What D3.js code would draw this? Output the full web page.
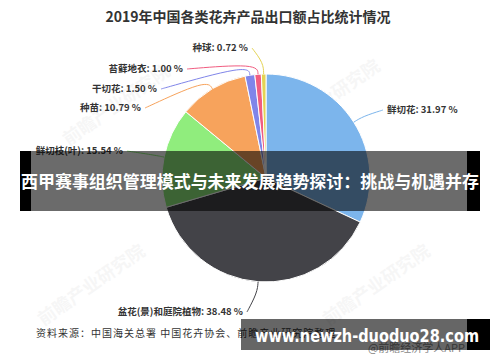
<!DOCTYPE html>
<html>
<head>
<meta charset="utf-8">
<script src="https://cdn.jsdelivr.net/npm/d3@7/dist/d3.min.js"></script>
<style>
  html, body { margin: 0; padding: 0; background: #fff; }
  svg { display: block; font-family: "Noto Sans CJK SC", "Noto Sans", sans-serif; }
</style>
</head>
<body>
<svg id="chart" width="500" height="362"></svg>
<script>
// data
const categories = ["鲜切花", "盆花(景)和庭院植物", "鲜切枝(叶)", "种苗", "干切花", "苔藓地衣", "种球"];
const shares = [31.97, 38.48, 15.54, 10.79, 1.50, 1.00, 0.72];
const palette = ["#7cb5ec", "#434348", "#90ed7d", "#f7a35c", "#8085e9", "#f15c80", "#e4d354"];

const titleText = "2019年中国各类花卉产品出口额占比统计情况";
const sourceText = "资料来源：中国海关总署 中国花卉协会、前瞻产业研究院整理";
const bannerText = "西甲赛事组织管理模式与未来发展趋势探讨：挑战与机遇并存";
const siteText = "www.newzh-duoduo28.com";
const appText = "@前瞻经济学人APP";

// label placement (text end/start point), like the chart library laid them out
const labelLayout = [
  {x: 387, y: 110, anchor: "start"},
  {x: 243, y: 312, anchor: "end"},
  {x: 123, y: 151, anchor: "end"},
  {x: 141, y: 108, anchor: "end"},
  {x: 157, y: 89, anchor: "end"},
  {x: 183, y: 69, anchor: "end"},
  {x: 248, y: 48, anchor: "end"}
];

const svg = d3.select("#chart");
const W = 500, H = 362;
const cx = 266, cy = 178, radius = 104;

svg.append("rect").attr("width", W).attr("height", H).attr("fill", "#fff");

// faint watermarks
const marks = [[120, 110], [330, 105], [95, 290], [380, 290]];
svg.append("g").selectAll("text").data(marks).enter().append("text")
  .attr("transform", (d) => "translate(" + d[0] + "," + d[1] + ") rotate(-35)")
  .attr("text-anchor", "middle")
  .attr("font-size", 18)
  .attr("font-weight", "bold")
  .attr("fill", "#000")
  .attr("opacity", 0.03)
  .text("前瞻产业研究院");

svg.append("text")
  .attr("x", 248).attr("y", 22)
  .attr("text-anchor", "middle")
  .attr("font-size", 14).attr("font-weight", "bold")
  .attr("fill", "#333")
  .text(titleText);

const rows = categories.map((c, i) => ({name: c, value: shares[i], i: i}));

const pie = d3.pie().sort(null).value((d) => d.value)
  .startAngle(0).endAngle(2 * Math.PI);
const arcs = pie(rows);

const arc = d3.arc().innerRadius(0).outerRadius(radius);
const edgeArc = d3.arc().innerRadius(radius).outerRadius(radius);
const bendArc = d3.arc().innerRadius(radius + 11).outerRadius(radius + 11);

const g = svg.append("g").attr("transform", "translate(" + cx + "," + cy + ")");

g.selectAll(".slice").data(arcs).enter().append("path")
  .classed("slice", true)
  .attr("d", arc)
  .attr("fill", (d) => palette[d.data.i])
  .attr("stroke", "#fff")
  .attr("stroke-width", 1)
  .attr("stroke-linejoin", "round");

// connectors
const line = d3.line().curve(d3.curveBasis);
svg.append("g").selectAll("path").data(arcs).enter().append("path")
  .attr("d", (d) => {
    const lay = labelLayout[d.data.i];
    const mid = (d.startAngle + d.endAngle) / 2;
    const e = edgeArc.centroid({startAngle: mid, endAngle: mid});
    const b = bendArc.centroid({startAngle: mid, endAngle: mid});
    const lx = lay.anchor === "end" ? lay.x + 4 : lay.x - 4;
    return line([[lx, lay.y], [lx, lay.y], [cx + b[0], cy + b[1]], [cx + e[0], cy + e[1]]]);
  })
  .attr("fill", "none")
  .attr("stroke", (d) => palette[d.data.i])
  .attr("stroke-width", 1);

const fmt = d3.format(".2f");
svg.append("g").selectAll("text").data(arcs).enter().append("text")
  .attr("x", (d) => labelLayout[d.data.i].x)
  .attr("y", (d) => labelLayout[d.data.i].y)
  .attr("dy", "0.35em")
  .attr("text-anchor", (d) => labelLayout[d.data.i].anchor)
  .attr("font-size", 9.5)
  .attr("font-weight", "bold")
  .attr("fill", "#333")
  .text((d) => d.data.name + ": " + fmt(d.data.value) + " %");

// source line
svg.append("text")
  .attr("x", 36).attr("y", 333)
  .attr("dy", "0.35em")
  .attr("font-size", 10)
  .attr("letter-spacing", 1)
  .attr("fill", "#333")
  .text(sourceText);

svg.append("text")
  .attr("x", 465).attr("y", 348)
  .attr("dy", "0.35em")
  .attr("text-anchor", "end")
  .attr("font-size", 11)
  .attr("fill", "#888")
  .text(appText);

// overlay banner across the pie
svg.append("rect").attr("x", 20).attr("y", 151).attr("width", 460).attr("height", 60)
  .attr("fill", "#000").attr("opacity", 0.58);
svg.append("rect").attr("x", 20).attr("y", 151).attr("width", 11).attr("height", 60).attr("fill", "#000");
svg.append("rect").attr("x", 467).attr("y", 151).attr("width", 13).attr("height", 60).attr("fill", "#000");
svg.append("text")
  .attr("x", 250).attr("y", 182)
  .attr("dy", "0.35em")
  .attr("text-anchor", "middle")
  .attr("font-size", 17).attr("font-weight", "bold")
  .attr("fill", "#fff")
  .attr("textLength", 458).attr("lengthAdjust", "spacingAndGlyphs")
  .text(bannerText);

// site box at the bottom
svg.append("rect").attr("x", 241).attr("y", 319).attr("width", 249).attr("height", 31)
  .attr("fill", "#000").attr("opacity", 0.6);
svg.append("rect").attr("x", 467).attr("y", 319).attr("width", 23).attr("height", 31).attr("fill", "#000");
svg.append("text")
  .attr("x", 255).attr("y", 336)
  .attr("dy", "0.35em")
  .attr("font-family", "'DejaVu Sans', sans-serif")
  .attr("font-size", 18).attr("font-weight", "bold")
  .attr("fill", "#fff")
  .attr("textLength", 224).attr("lengthAdjust", "spacingAndGlyphs")
  .text(siteText);
</script>
</body>
</html>
